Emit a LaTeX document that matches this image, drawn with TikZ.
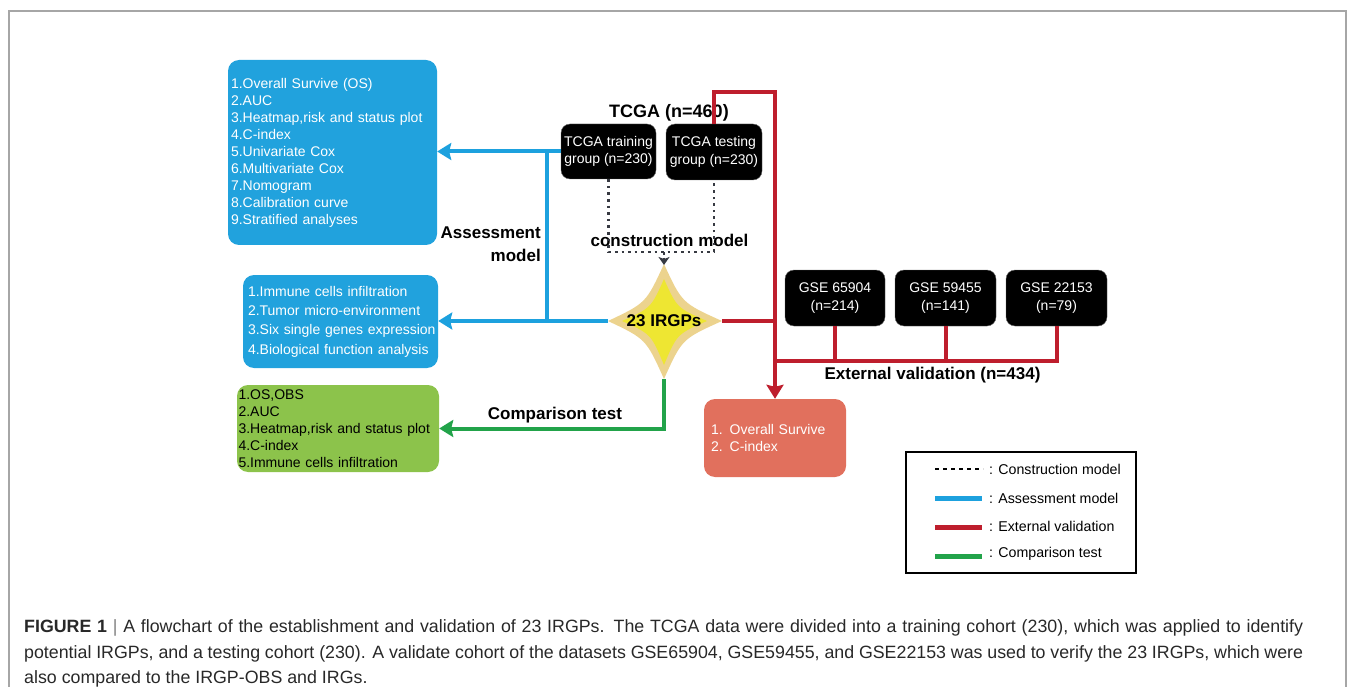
\documentclass[tikz,border=0pt]{standalone}
\usepackage{fontspec}
\setmainfont{Liberation Sans}
\usetikzlibrary{arrows.meta}
\definecolor{boxblue}{RGB}{33,162,221}
\definecolor{lineblue}{RGB}{29,161,222}
\definecolor{linered}{RGB}{190,30,45}
\definecolor{linegreen}{RGB}{34,163,74}
\definecolor{boxgreen}{RGB}{140,195,75}
\definecolor{boxorange}{RGB}{225,112,93}
\definecolor{startan}{RGB}{236,211,142}
\definecolor{staryellow}{RGB}{238,230,50}
\definecolor{dotgray}{RGB}{55,58,66}
\definecolor{capgray}{RGB}{40,40,40}
\begin{document}
\hyphenpenalty=10000
\exhyphenpenalty=10000
\begin{tikzpicture}[x=1pt,y=-1pt,
  blk/.style={draw=black!60, fill=black, rounded corners=9pt, text=white, align=center,
    font=\fontsize{14}{17.5}\selectfont, inner sep=0pt},
  infobox/.style={rounded corners=11pt, align=left, inner ysep=0pt},
  lbl/.style={font=\fontsize{17}{22}\selectfont\bfseries, inner sep=0pt},
  legtxt/.style={font=\fontsize{14.2}{17}\selectfont, anchor=west, inner sep=0pt},
  captxt/.style={anchor=base west, inner sep=0pt, text=capgray, font=\fontsize{17.8}{22}\selectfont},
  bline/.style={draw=lineblue, line width=4pt},
  rline/.style={draw=linered, line width=4pt},
  gline/.style={draw=linegreen, line width=4pt},
  dline/.style={draw=dotgray, line width=2.6pt, dash pattern=on 2.6pt off 4pt},
  bigtip/.style={-{Stealth[length=14pt,width=17pt,inset=2pt]}},
  smalltip/.style={-{Stealth[length=8pt,width=11pt,inset=2pt]}}
]
\useasboundingbox (0,0) rectangle (1355,687);
% outer frame
\draw[black!35, line width=1.2pt] (9,687) -- (9,11) -- (1346,11) -- (1346,687);

% info boxes
\node[infobox, fill=boxblue, text=white, minimum width=209pt, minimum height=185pt,
  text width=203pt, inner xsep=3pt, font=\fontsize{14}{17}\selectfont] (b1) at (332.5,152.5)
  {1.Overall Survive (OS)\\2.AUC\\3.Heatmap,risk and status plot\\4.C-index\\5.Univariate Cox\\6.Multivariate Cox\\7.Nomogram\\8.Calibration curve\\9.Stratified analyses};
\node[infobox, fill=boxblue, text=white, minimum width=195pt, minimum height=93pt,
  text width=191pt, inner xsep=2pt, font=\fontsize{14}{19.3}\selectfont] (b2) at (340.5,321.5)
  {\hspace*{3pt}1.Immune cells infiltration\\\hspace*{3pt}2.Tumor micro-environment\\\hspace*{3pt}3.Six single genes expression\\\hspace*{3pt}4.Biological function analysis};
\node[infobox, fill=boxgreen, text=black, minimum width=202pt, minimum height=87pt,
  text width=199pt, inner xsep=1.5pt, font=\fontsize{14}{17}\selectfont] (gr) at (338,428.5)
  {1.OS,OBS\\2.AUC\\3.Heatmap,risk and status plot\\4.C-index\\5.Immune cells infiltration};
\node[infobox, fill=boxorange, text=white, minimum width=142pt, minimum height=78pt,
  text width=128pt, inner xsep=7pt, font=\fontsize{14}{17}\selectfont] (ov) at (775,438)
  {1. Overall Survive\\2. C-index\\[2pt]};

% black boxes
\node[blk, minimum width=95pt, minimum height=55pt] (tr) at (608.5,151.5) {TCGA training\\group (n=230)};
\node[blk, minimum width=96pt, minimum height=56pt] (te) at (714,152) {TCGA testing\\group (n=230)};
\node[blk, minimum width=100pt, minimum height=56pt] (g1) at (835,298) {GSE 65904\\(n=214)};
\node[blk, minimum width=101pt, minimum height=56pt] (g2) at (945.5,298) {GSE 59455\\(n=141)};
\node[blk, minimum width=101pt, minimum height=56pt] (g3) at (1056.5,298) {GSE 22153\\(n=79)};

% star
\coordinate (sc) at (664,321);
\coordinate (sT) at (664,264);
\coordinate (sR) at (722,321);
\coordinate (sB) at (664,379);
\coordinate (sL) at (608,321);
\fill[startan] (sT) .. controls (682,303) .. (sR) .. controls (682,339) .. (sB)
  .. controls (646,339) .. (sL) .. controls (646,303) .. cycle;
\fill[staryellow] (664,279) .. controls (677,308) .. (707,321) .. controls (677,334) .. (664,365)
  .. controls (651,334) .. (622,321) .. controls (651,308) .. cycle;
\node[lbl] (irgp) at (sc) {23 IRGPs};

% labels
\node[lbl, font=\fontsize{18}{22}\selectfont\bfseries] (tcga) at (669,113) {TCGA (n=460)};
\node[lbl] (cons) at (669.5,240) {construction model};
\node[lbl, align=right, anchor=east, font=\fontsize{17}{23}\selectfont\bfseries] (assess) at (541,244) {Assessment\\model};
\node[lbl] (comp) at (555,415) {Comparison test};
\node[lbl] (ext) at (932.5,375) {External validation (n=434)};

% construction (dotted)
\coordinate (cm) at (664,252);
\draw[dline] (tr.south) -- (tr.south |- cm) -- (te.south |- cm) -- (te.south);
\draw[dotgray, line width=2.6pt, dash pattern=on 2.6pt off 3pt, smalltip] (cm) -- ([yshift=-1pt]sT);

% assessment (blue)
\coordinate (bj) at (547,152);
\draw[bline, bigtip] (tr.west) -- (tr.west -| b1.east);
\draw[bline] (bj) -- (bj |- sL);
\draw[bline, bigtip] (sL) -- (sL -| b2.east);

% comparison (green)
\draw[gline, bigtip] (sB) |- (gr.east);

% external validation (red)
\coordinate (rt) at (ov.north |- 0,92);
\coordinate (rh) at (ov.north |- 0,361);
\draw[rline, line join=miter] (te.north) |- (rt) -- (ov.north |- sR);
\draw[rline, bigtip] (ov.north |- sR) -- (ov.north);
\draw[rline] (sR) -- (ov.north |- sR);
\draw[rline] (rh) -| (g3.south);
\draw[rline] (g1.south) -- (g1.south |- rh);
\draw[rline] (g2.south) -- (g2.south |- rh);

% legend
\node[draw=black, line width=1.5pt, minimum width=230pt, minimum height=121pt, inner sep=0pt] (leg) at (1021,512.5) {};
\draw[black, line width=1.5pt, dash pattern=on 4pt off 4pt] (935,469) -- (983,469);
\draw[lineblue, line width=5pt] (935,498) -- (982,498);
\draw[linered, line width=5pt] (935,527) -- (982,527);
\draw[linegreen, line width=5pt] (935,556) -- (982,556);
\node[legtxt] (l1) at (989,469) {: Construction model};
\node[legtxt] (l2) at (989,498) {: Assessment model};
\node[legtxt] (l3) at (989,526) {: External validation};
\node[legtxt] (l4) at (989,554) {: Comparison test};

% caption
\node[captxt] (cap1) at (24,632)
  {\makebox[1279pt][s]{\textbf{FIGURE 1} {\color{black!50}|} A flowchart of the establishment and validation of 23 IRGPs. The TCGA data were divided into a training cohort (230), which was applied to identify}};
\node[captxt] (cap2) at (24,658)
  {\makebox[1279pt][s]{potential IRGPs, and a testing cohort (230). A validate cohort of the datasets GSE65904, GSE59455, and GSE22153 was used to verify the 23 IRGPs, which were}};
\node[captxt] (cap3) at (24,683)
  {also compared to the IRGP-OBS and IRGs.};
\end{tikzpicture}
\end{document}
